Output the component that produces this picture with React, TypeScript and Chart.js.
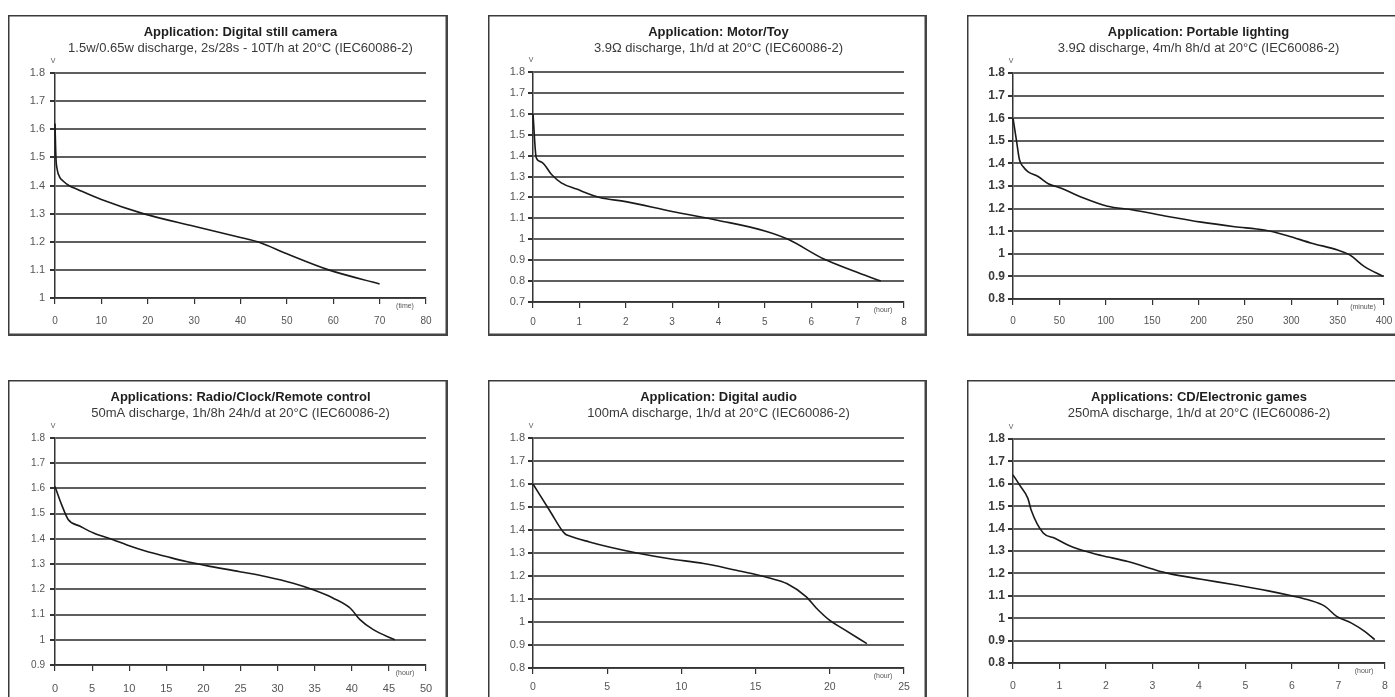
import React, { useEffect, useRef } from "react";
import { Chart, registerables } from "chart.js";

Chart.register(...registerables);

const FONT = "'Liberation Sans', Arial, Helvetica, sans-serif";

// ---------- data ----------
const cameraX = [0, 0.2, 0.5, 1, 1.8, 3, 5, 10, 19, 30, 40, 44, 50, 59, 70];
const cameraY = [1.62, 1.5, 1.455, 1.43, 1.415, 1.4, 1.385, 1.35, 1.3, 1.255, 1.215, 1.198, 1.157, 1.1, 1.05];

const motorX = [0, 0.07, 0.18, 0.4, 0.61, 0.94, 1.44, 2, 3, 4, 5, 5.5, 6.26, 6.9, 7.5];
const motorY = [1.6, 1.39, 1.37, 1.31, 1.27, 1.24, 1.2, 1.18, 1.133, 1.09, 1.04, 1.0, 0.907, 0.85, 0.8];

const lightX = [0, 3.6, 7, 10.8, 16, 27, 38, 52, 74, 102, 128, 167, 203, 239, 271, 296, 322, 350, 363, 379, 399];
const lightY = [1.6, 1.505, 1.416, 1.386, 1.364, 1.342, 1.31, 1.29, 1.25, 1.21, 1.195, 1.165, 1.14, 1.12, 1.105, 1.08, 1.047, 1.017, 0.995, 0.943, 0.9];

const radioX = [0, 0.9, 1.8, 3.4, 5.2, 7.9, 9.7, 12.4, 15, 17.7, 20.4, 24.9, 28.5, 32.1, 34.8, 37.5, 39.8, 41.1, 42.9, 45.8];
const radioY = [1.608, 1.535, 1.476, 1.45, 1.423, 1.396, 1.376, 1.35, 1.33, 1.31, 1.294, 1.27, 1.25, 1.224, 1.198, 1.165, 1.125, 1.08, 1.04, 1.0];

const audioX = [0, 1.12, 2.14, 2.47, 3.8, 5.2, 7, 9.2, 11.5, 13.7, 14.8, 16, 17.1, 18.4, 19.1, 20, 20.9, 22.5];
const audioY = [1.6, 1.485, 1.384, 1.374, 1.348, 1.325, 1.3, 1.275, 1.254, 1.225, 1.21, 1.19, 1.167, 1.11, 1.06, 1.007, 0.97, 0.906];

const cdX = [0, 0.14, 0.32, 0.39, 0.65, 0.9, 1.18, 1.54, 1.9, 2.47, 3.05, 3.34, 4.05, 4.77, 5.49, 5.99, 6.35, 6.71, 6.96, 7.28, 7.57, 7.78];
const cdY = [1.64, 1.595, 1.535, 1.483, 1.38, 1.357, 1.327, 1.3, 1.28, 1.253, 1.216, 1.2, 1.174, 1.149, 1.122, 1.1, 1.082, 1.053, 1.008, 0.978, 0.94, 0.904];

const titles = [
  "Application: Digital still camera",
  "Application: Motor/Toy",
  "Application: Portable lighting",
  "Applications: Radio/Clock/Remote control",
  "Application: Digital audio",
  "Applications: CD/Electronic games",
];
const subtitles = [
  "1.5w/0.65w discharge, 2s/28s - 10T/h at 20°C (IEC60086-2)",
  "3.9Ω discharge, 1h/d at 20°C (IEC60086-2)",
  "3.9Ω discharge, 4m/h 8h/d at 20°C (IEC60086-2)",
  "50mA discharge, 1h/8h 24h/d at 20°C (IEC60086-2)",
  "100mA discharge, 1h/d at 20°C (IEC60086-2)",
  "250mA discharge, 1h/d at 20°C (IEC60086-2)",
];
const xUnits = ["(time)", "(hour)", "(minute)", "(hour)", "(hour)", "(hour)"];
const xMaxes = [80, 8, 400, 50, 25, 8];
const xSteps = [10, 1, 50, 5, 5, 1];
const yMins = [1.0, 0.7, 0.8, 0.9, 0.8, 0.8];
const yMaxes = [1.8, 1.8, 1.8, 1.8, 1.8, 1.8];
const yLabel = "V";

const seriesX = [cameraX, motorX, lightX, radioX, audioX, cdX];
const seriesY = [cameraY, motorY, lightY, radioY, audioY, cdY];

// ---------- layout (page pixels) ----------
const layouts = [
  { box: { x: 8, y: 15, w: 440, h: 321 }, area: { l: 55, t: 73, r: 426, b: 298 }, yFont: 11, yBold: false, xFont: 10, xPad: 11 },
  { box: { x: 488, y: 15, w: 439, h: 321 }, area: { l: 533, t: 72, r: 904, b: 302 }, yFont: 11, yBold: false, xFont: 10, xPad: 8 },
  { box: { x: 967, y: 15, w: 439, h: 321 }, area: { l: 1013, t: 73, r: 1384, b: 299 }, yFont: 12, yBold: true, xFont: 10, xPad: 10 },
  { box: { x: 8, y: 380, w: 440, h: 330 }, area: { l: 55, t: 438, r: 426, b: 665 }, yFont: 10, yBold: false, xFont: 11, xPad: 11 },
  { box: { x: 488, y: 380, w: 439, h: 330 }, area: { l: 533, t: 438, r: 904, b: 668 }, yFont: 11, yBold: false, xFont: 10.5, xPad: 7 },
  { box: { x: 967, y: 380, w: 439, h: 330 }, area: { l: 1013, t: 439, r: 1385, b: 663 }, yFont: 12, yBold: true, xFont: 10.5, xPad: 11 },
];

function Panel({ idx }: { idx: number }) {
  const ref = useRef<HTMLCanvasElement>(null);
  const L = layouts[idx];
  useEffect(() => {
    const canvas = ref.current;
    if (!canvas) return;
    const { box, area } = L;
    const decor = {
      id: "decor" + idx,
      afterDraw(chart: any) {
        const ctx = chart.ctx;
        const ca = chart.chartArea;
        const cx = (ca.left + ca.right) / 2;
        ctx.save();
        ctx.textAlign = "center";
        ctx.textBaseline = "middle";
        ctx.fillStyle = "#1e1e1e";
        ctx.font = `bold 13px ${FONT}`;
        ctx.fillText(titles[idx], cx, 17);
        ctx.fillStyle = "#3a3a3a";
        ctx.font = `13px ${FONT}`;
        ctx.fillText(subtitles[idx], cx, 33);
        ctx.fillStyle = "#555";
        ctx.font = `7px ${FONT}`;
        ctx.fillText(yLabel, ca.left - 2, ca.top - 12);
        ctx.fillText(xUnits[idx], ca.right - 21, ca.bottom + 8);
        // frame
        ctx.strokeStyle = "#3a3a3a";
        ctx.lineWidth = 1.5;
        ctx.beginPath();
        ctx.moveTo(0.75, box.h);
        ctx.lineTo(0.75, 0.75);
        ctx.lineTo(box.w, 0.75);
        ctx.stroke();
        ctx.lineWidth = 2.5;
        ctx.strokeStyle = "#444";
        ctx.beginPath();
        ctx.moveTo(box.w - 1.25, 0);
        ctx.lineTo(box.w - 1.25, box.h - 1.25);
        ctx.lineTo(0, box.h - 1.25);
        ctx.stroke();
        ctx.restore();
      },
    };
    const xs = seriesX[idx];
    const ys = seriesY[idx];
    const chart = new Chart(canvas, {
      type: "line",
      data: {
        datasets: [
          {
            data: xs.map((x, i) => ({ x, y: ys[i] })),
            borderColor: "#1a1a1a",
            borderWidth: 1.6,
            pointRadius: 0,
            fill: false,
            cubicInterpolationMode: "monotone",
            clip: 4,
          } as any,
        ],
      },
      options: {
        responsive: false,
        animation: false,
        events: [],
        layout: {
          padding: {
            left: 0,
            top: area.t - box.y,
            right: box.x + box.w - area.r,
            bottom: 0,
          },
        },
        plugins: {
          legend: { display: false },
          tooltip: { enabled: false },
          title: { display: false },
        },
        scales: {
          x: {
            type: "linear",
            min: 0,
            max: xMaxes[idx],
            afterFit: (s: any) => {
              s.height = box.y + box.h - area.b;
            },
            ticks: {
              stepSize: xSteps[idx],
              autoSkip: false,
              maxRotation: 0,
              padding: L.xPad,
              color: "#555",
              font: { family: FONT, size: L.xFont },
            },
            grid: {
              drawOnChartArea: false,
              drawTicks: true,
              tickLength: 6,
              color: "#333",
              lineWidth: 1.2,
            },
            border: { display: true, color: "#333", width: 1.5 },
          },
          y: {
            type: "linear",
            min: yMins[idx],
            max: yMaxes[idx],
            afterFit: (s: any) => {
              s.width = area.l - box.x;
            },
            ticks: {
              stepSize: 0.1,
              padding: idx === 0 || idx === 3 ? 5 : 3,
              color: L.yBold ? "#3a3a3a" : "#555",
              font: { family: FONT, size: L.yFont, weight: L.yBold ? "bold" : "normal" },
              callback: (v: any) => String(Math.round(Number(v) * 10) / 10),
            },
            grid: {
              color: "#5e5e5e",
              lineWidth: 2,
              tickLength: 5,
              tickColor: "#333",
            },
            border: { display: true, color: "#333", width: 1.5 },
          },
        },
      } as any,
      plugins: [decor],
    });
    return () => chart.destroy();
  }, []);
  const { box } = L;
  return (
    <canvas
      ref={ref}
      width={box.w}
      height={box.h}
      style={{ position: "absolute", left: box.x, top: box.y, width: box.w, height: box.h }}
    />
  );
}

export default function App() {
  return (
    <div
      style={{
        position: "fixed",
        left: 0,
        top: 0,
        width: 1395,
        height: 697,
        overflow: "hidden",
        background: "#fff",
      }}
    >
      {layouts.map((_, i) => (
        <Panel key={i} idx={i} />
      ))}
    </div>
  );
}
